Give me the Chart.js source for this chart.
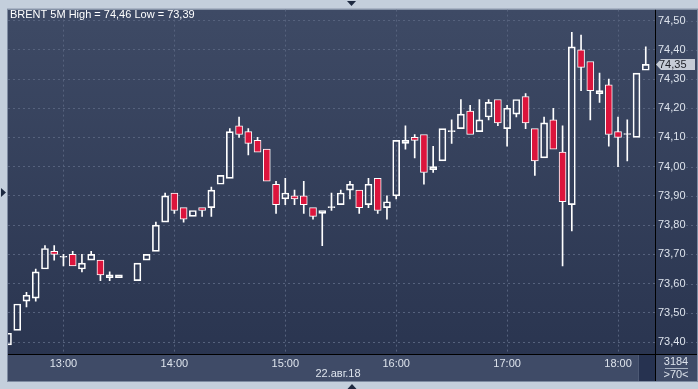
<!DOCTYPE html>
<html>
<head>
<meta charset="utf-8">
<script src="https://cdn.jsdelivr.net/npm/chart.js@4.4.1/dist/chart.umd.min.js"></script>
<style>
html, body { margin: 0; padding: 0; background: #c4cfdc; overflow: hidden; }
canvas { display: block; }
</style>
</head>
<body>
<canvas id="chart" width="698" height="389"></canvas>
<script>
const times = [
    '12:30', '12:35', '12:40', '12:45', '12:50', '12:55',
    '13:00', '13:05', '13:10', '13:15', '13:20', '13:25', '13:30', '13:35', '13:40', '13:45', '13:50', '13:55',
    '14:00', '14:05', '14:10', '14:15', '14:20', '14:25', '14:30', '14:35', '14:40', '14:45', '14:50', '14:55',
    '15:00', '15:05', '15:10', '15:15', '15:20', '15:25', '15:30', '15:35', '15:40', '15:45', '15:50', '15:55',
    '16:00', '16:05', '16:10', '16:15', '16:20', '16:25', '16:30', '16:35', '16:40', '16:45', '16:50', '16:55',
    '17:00', '17:05', '17:10', '17:15', '17:20', '17:25', '17:30', '17:35', '17:40', '17:45', '17:50', '17:55',
    '18:00', '18:05', '18:10', '18:15'
];

const opens = [
    73.39, 73.44, 73.54, 73.55, 73.65, 73.71,
    73.69, 73.70, 73.65, 73.68, 73.68, 73.62, 73.62, null, 73.61, 73.68, 73.71, 73.81,
    73.91, 73.86, 73.83, 73.86, 73.86, 73.94, 73.96, 74.14, 74.12, 74.09, 74.06, 73.94,
    73.89, 73.90, 73.90, 73.86, 73.84, 73.86, 73.87, 73.92, 73.92, 73.87, 73.96, 73.86,
    73.90, 74.08, 74.10, 74.11, 73.99, 74.02, 74.12, 74.13, 74.19, 74.12, 74.17, 74.23,
    74.13, 74.18, 74.24, 74.13, 74.03, 74.16, 74.05, 73.87, 74.40, 74.36, 74.25, 74.28,
    74.12, 74.11, 74.10, 74.33
];

const highs = [
    73.43, 73.53, 73.57, 73.65, 73.73, 73.73,
    73.70, 73.71, 73.70, 73.71, 73.68, 73.64, 73.63, null, 73.67, 73.70, 73.81, 73.91,
    73.91, 73.86, 73.85, 73.86, 73.93, 73.97, 74.13, 74.17, 74.13, 74.10, 74.06, 73.95,
    73.96, 73.92, 73.95, 73.86, 73.85, 73.91, 73.92, 73.95, 73.92, 73.96, 73.96, 73.90,
    74.09, 74.14, 74.11, 74.11, 74.07, 74.13, 74.16, 74.23, 74.21, 74.23, 74.23, 74.23,
    74.21, 74.23, 74.25, 74.13, 74.17, 74.20, 74.14, 74.46, 74.45, 74.36, 74.32, 74.30,
    74.17, 74.16, 74.32, 74.41
];

const lows = [
    73.39, 73.44, 73.52, 73.54, 73.65, 73.68,
    73.66, 73.66, 73.64, 73.68, 73.61, 73.61, 73.62, null, 73.61, 73.68, 73.71, 73.81,
    73.84, 73.81, 73.83, 73.83, 73.83, 73.94, 73.96, 74.10, 74.04, 74.05, 73.95, 73.84,
    73.87, 73.87, 73.84, 73.82, 73.73, 73.85, 73.87, 73.89, 73.84, 73.86, 73.84, 73.82,
    73.89, 74.06, 74.03, 73.94, 73.98, 74.02, 74.08, 74.13, 74.11, 74.12, 74.16, 74.14,
    74.07, 74.17, 74.13, 73.97, 74.03, 74.06, 73.66, 73.78, 74.26, 74.16, 74.22, 74.07,
    74.00, 74.02, 74.10, 74.33
];

const closes = [
    73.43, 73.53, 73.56, 73.64, 73.72, 73.70,
    73.69, 73.66, 73.67, 73.70, 73.63, 73.63, 73.63, null, 73.67, 73.70, 73.80, 73.90,
    73.85, 73.82, 73.85, 73.85, 73.92, 73.97, 74.12, 74.11, 74.08, 74.05, 73.95, 73.87,
    73.91, 73.89, 73.87, 73.83, 73.85, 73.86, 73.91, 73.94, 73.86, 73.94, 73.85, 73.88,
    74.09, 74.09, 74.09, 73.98, 74.00, 74.13, 74.12, 74.18, 74.11, 74.16, 74.22, 74.15,
    74.20, 74.23, 74.15, 74.02, 74.15, 74.06, 73.88, 74.41, 74.34, 74.26, 74.26, 74.11,
    74.10, 74.11, 74.32, 74.35
];

const priceTicks = [73.40, 73.50, 73.60, 73.70, 73.80, 73.90, 74.00, 74.10, 74.20, 74.30, 74.40, 74.50];
const hourTicks = [6, 18, 30, 42, 54, 66];

const titleText = 'BRENT 5M High = 74,46 Low = 73,39';
const dateText = '22.авг.18';
const countText = '3184';
const barsText = '>70<';

const RED = '#dc143c';
const WHITE = '#ffffff';
const GRID = '#56627d';
const LABEL = '#dde3ec';
const FONT_FAMILY = '"Liberation Sans Narrow", "Liberation Sans", Arial, sans-serif';

function formatPrice(value) {
    return value.toFixed(2).replace('.', ',');
}

function buildCandles() {
    const bodies = [];
    const bodyColors = [];
    const upper = [];
    const lower = [];

    for (let i = 0; i < times.length; i++) {
        if (opens[i] === null) {
            continue;
        }

        const top = Math.max(opens[i], closes[i]);
        const bottom = Math.min(opens[i], closes[i]);

        bodies.push({ x: i, y: [opens[i], closes[i]] });
        bodyColors.push(closes[i] < opens[i] ? RED : 'rgba(0,0,0,0)');

        if (highs[i] > top) {
            upper.push({ x: i, y: [top, highs[i]] });
        }
        if (lows[i] < bottom) {
            lower.push({ x: i, y: [lows[i], bottom] });
        }
    }

    return { bodies, bodyColors, upper, lower };
}

function triangle(ctx, points) {
    ctx.beginPath();
    ctx.moveTo(points[0][0], points[0][1]);
    ctx.lineTo(points[1][0], points[1][1]);
    ctx.lineTo(points[2][0], points[2][1]);
    ctx.closePath();
    ctx.fill();
}

const framePlugin = {
    id: 'frame',
    beforeDraw(chart) {
        const { ctx, chartArea: area, width } = chart;
        const right = width - 1;

        ctx.save();
        const gradient = ctx.createLinearGradient(0, area.top, 0, area.bottom);
        gradient.addColorStop(0, '#3e4a65');
        gradient.addColorStop(1, '#2a3550');
        ctx.fillStyle = gradient;
        ctx.fillRect(area.left, area.top, right - area.left, area.bottom - area.top);

        ctx.fillStyle = '#3f4b67';
        ctx.fillRect(area.left, area.bottom, right - area.left, 27);

        ctx.fillStyle = '#263250';
        ctx.fillRect(area.right - 16, area.bottom, 16, 27);
        ctx.fillStyle = '#4d5974';
        ctx.fillRect(area.right - 17, area.bottom, 1, 27);
        ctx.restore();
    },
    afterDraw(chart) {
        const { ctx, chartArea: area, width } = chart;
        const yScale = chart.scales.y;
        const right = width - 1;
        const bottom = area.bottom + 27;

        ctx.save();

        ctx.strokeStyle = GRID;
        ctx.lineWidth = 1;
        ctx.setLineDash([2, 3]);
        for (const value of priceTicks) {
            const y = Math.round(yScale.getPixelForValue(value)) + 0.5;
            ctx.beginPath();
            ctx.moveTo(area.right + 31, y);
            ctx.lineTo(right, y);
            ctx.stroke();
        }
        ctx.setLineDash([]);

        ctx.fillStyle = '#000000';
        ctx.fillRect(area.right, area.top, 1, bottom - area.top);
        ctx.fillRect(area.left, area.bottom, right - area.left, 1);

        ctx.strokeStyle = '#7f8ca2';
        ctx.strokeRect(area.left - 0.5, area.top - 0.5, right - area.left + 1, bottom - area.top + 1);

        ctx.font = `11px ${FONT_FAMILY}`;
        ctx.textBaseline = 'middle';
        ctx.fillStyle = WHITE;
        ctx.textAlign = 'left';
        ctx.fillText(titleText, area.left + 2, 15);

        ctx.fillStyle = LABEL;
        ctx.textAlign = 'center';
        ctx.fillText(dateText, 338, 374);

        const cellX = (area.right + right) / 2;
        ctx.fillText(countText, cellX, 362);
        ctx.fillText(barsText, cellX, 375);
        ctx.fillStyle = '#a9b3c3';
        ctx.fillRect(cellX - 11, 368, 23, 1);

        const priceY = yScale.getPixelForValue(closes[closes.length - 1]);
        ctx.fillStyle = '#c6ccd6';
        ctx.beginPath();
        ctx.moveTo(area.right + 1, priceY);
        ctx.lineTo(area.right + 6, priceY - 5.5);
        ctx.lineTo(area.right + 40, priceY - 5.5);
        ctx.lineTo(area.right + 40, priceY + 5.5);
        ctx.lineTo(area.right + 6, priceY + 5.5);
        ctx.closePath();
        ctx.fill();
        ctx.fillStyle = '#1c1f26';
        ctx.textAlign = 'left';
        ctx.fillText(formatPrice(closes[closes.length - 1]), area.right + 4, priceY + 0.5);

        ctx.fillStyle = '#1d2940';
        triangle(ctx, [[347, 1], [356, 1], [351.5, 6]]);
        triangle(ctx, [[1, 188], [1, 197], [6, 192.5]]);
        triangle(ctx, [[347.5, 389], [356.5, 389], [352, 384]]);

        ctx.restore();
    }
};

const candles = buildCandles();

new Chart(document.getElementById('chart'), {
    type: 'bar',
    data: {
        datasets: [
            {
                label: 'Body',
                data: candles.bodies,
                backgroundColor: candles.bodyColors,
                borderColor: WHITE,
                borderWidth: 1,
                borderSkipped: false,
                barThickness: 7,
                minBarLength: 1,
                grouped: false,
                clip: 0
            },
            {
                label: 'Upper wick',
                data: candles.upper,
                backgroundColor: WHITE,
                borderWidth: 0,
                barThickness: 1,
                grouped: false,
                clip: 0
            },
            {
                label: 'Lower wick',
                data: candles.lower,
                backgroundColor: WHITE,
                borderWidth: 0,
                barThickness: 1,
                grouped: false,
                clip: 0
            }
        ]
    },
    options: {
        responsive: false,
        devicePixelRatio: 1,
        animation: false,
        layout: {
            padding: { left: 8, top: 8, right: 1, bottom: 8 }
        },
        plugins: {
            legend: { display: false },
            tooltip: { enabled: false }
        },
        scales: {
            x: {
                type: 'linear',
                position: 'bottom',
                offset: false,
                min: 0,
                max: 70,
                afterFit: (scale) => { scale.height = 27; },
                afterBuildTicks: (scale) => {
                    scale.ticks = hourTicks.map((value) => ({ value }));
                },
                grid: {
                    color: GRID,
                    drawTicks: false,
                    offset: false
                },
                border: { display: false, dash: [2, 3] },
                ticks: {
                    color: LABEL,
                    padding: 3,
                    maxRotation: 0,
                    autoSkip: false,
                    font: { family: FONT_FAMILY, size: 11 },
                    callback: (value) => times[value]
                }
            },
            y: {
                type: 'linear',
                position: 'right',
                min: 73.359,
                max: 74.5375,
                afterFit: (scale) => { scale.width = 42; },
                afterBuildTicks: (scale) => {
                    scale.ticks = priceTicks.map((value) => ({ value }));
                },
                grid: {
                    color: GRID,
                    drawTicks: false
                },
                border: { display: false, dash: [2, 3] },
                ticks: {
                    color: LABEL,
                    padding: 3,
                    autoSkip: false,
                    font: { family: FONT_FAMILY, size: 11 },
                    callback: (value) => formatPrice(value)
                }
            }
        }
    },
    plugins: [framePlugin]
});
</script>
</body>
</html>
